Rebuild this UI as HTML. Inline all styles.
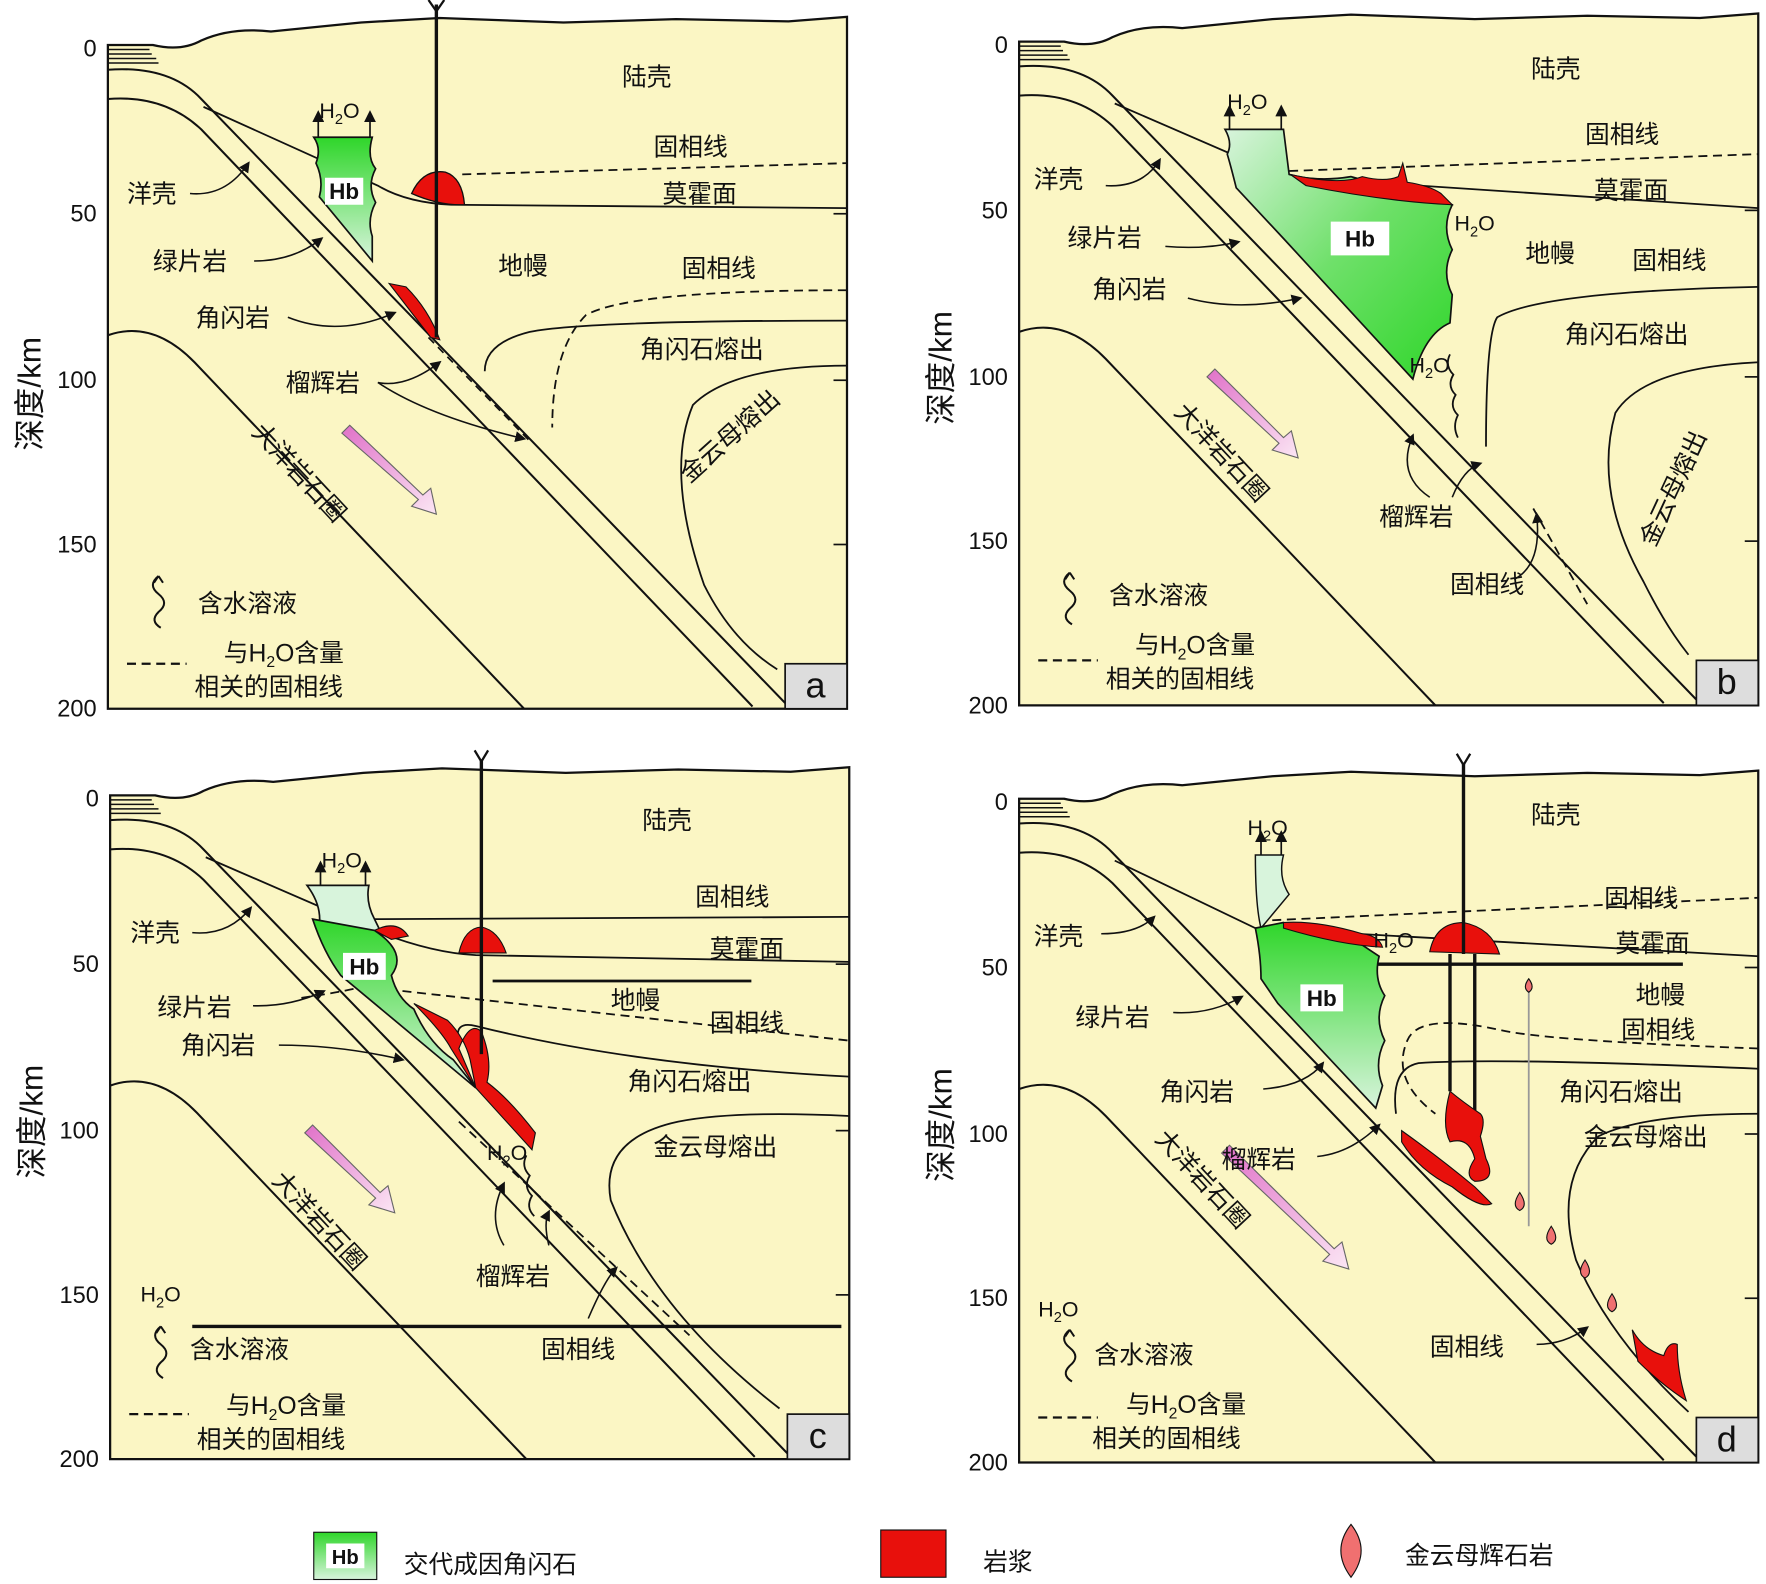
<!DOCTYPE html>
<html><head><meta charset="utf-8"><style>
html,body{margin:0;padding:0;background:#fff;}
svg{display:block}
text{font-family:"Liberation Sans","Noto Sans CJK SC",sans-serif;fill:#111}
.c{font-size:22px}
.ax{font-size:21px}
</style></head><body>
<svg width="1766" height="1584" viewBox="0 0 1568 1408" xmlns="http://www.w3.org/2000/svg">
<defs>
<linearGradient id="gr" x1="0" y1="0" x2="0" y2="1"><stop offset="0" stop-color="#2fd62a"/><stop offset="1" stop-color="#d8f4dc"/></linearGradient>
<linearGradient id="gr2" x1="0" y1="0" x2="1" y2="1"><stop offset="0" stop-color="#d8f4dc"/><stop offset="0.5" stop-color="#6fe06a"/><stop offset="1" stop-color="#2fd62a"/></linearGradient>
<linearGradient id="pk" x1="0" y1="0" x2="1" y2="1"><stop offset="0" stop-color="#e070c8"/><stop offset="1" stop-color="#fbe6f4"/></linearGradient>
<marker id="ah" viewBox="0 0 10 10" refX="8" refY="5" markerWidth="7" markerHeight="7" orient="auto"><path d="M0,0 L10,5 L0,10 Z" fill="#111"/></marker>
<g id="base">
<path d="M95,40 L135,40 Q160,46 178,36 Q205,24 240,28 L320,20 L390,16 L500,20 L600,17 L700,19 L752,15 L752,630 L95,630 Z" fill="#FBF6C4" stroke="#111" stroke-width="2"/>
<g stroke="#111" stroke-width="1.3"><line x1="95" y1="44" x2="132" y2="44"/><line x1="95" y1="48" x2="134" y2="48"/><line x1="95" y1="52" x2="138" y2="52"/><line x1="95" y1="56" x2="140" y2="56"/></g>
<g fill="none" stroke="#111" stroke-width="1.8">
<path d="M95,62 Q150,58 178,88 L700,628"/>
<path d="M95,88 Q145,84 178,115 L668,628"/>
<path d="M95,298 Q135,284 172,322 L465,630"/>
</g>
<g stroke="#111" stroke-width="1.5"><line x1="740" y1="190" x2="752" y2="190"/><line x1="740" y1="338" x2="752" y2="338"/><line x1="740" y1="484" x2="752" y2="484"/></g>
<rect x="697" y="590" width="55" height="40" fill="#ddd" stroke="#111" stroke-width="1.5"/>
<path d="M140,512 q-10,8 0,16 q10,8 0,16 q-8,8 2,14" fill="none" stroke="#111" stroke-width="1.8"/>
<path d="M140,512 l-4,6 M140,512 l4,6" stroke="#111" stroke-width="1.8"/>
<line x1="112" y1="590" x2="165" y2="590" stroke="#111" stroke-width="2" stroke-dasharray="8,5"/>
</g>
</defs>

<!-- PANEL A -->
<g>
<use href="#base"/>
<g class="ax" text-anchor="end"><text x="85" y="50">0</text><text x="85" y="197">50</text><text x="85" y="345">100</text><text x="85" y="491">150</text><text x="85" y="637">200</text></g>
<text x="35" y="350" transform="rotate(-90 35 350)" text-anchor="middle" font-size="28">深度/km</text>
<text x="724" y="620" font-size="32" text-anchor="middle">a</text>
<g fill="none" stroke="#111" stroke-width="1.6">
<path d="M180,95 L335,165 Q360,180 400,182 L752,185"/>
<path d="M410,155 L752,145" stroke-dasharray="8,5"/>
<path d="M752,258 Q560,258 520,280 Q490,310 490,380" stroke-dasharray="8,5"/>
<path d="M752,285 Q520,285 470,295 Q430,305 430,330"/>
<path d="M752,325 Q650,325 615,360 Q590,420 625,520 Q650,570 690,595"/>
</g>
<path d="M278,122 L330,122 Q325,140 333,150 Q325,165 333,180 Q325,195 330,210 L330,232 L283,175 Q287,160 280,145 Q285,132 278,122 Z" fill="url(#gr)" stroke="#111" stroke-width="1.5"/>
<path d="M282,122 L282,100" stroke="#111" stroke-width="1.5" marker-end="url(#ah)"/><path d="M328,122 L328,100" stroke="#111" stroke-width="1.5" marker-end="url(#ah)"/>
<text x="283" y="105" font-size="19">H<tspan font-size="13" dy="5">2</tspan><tspan dy="-5">O</tspan></text>
<rect x="288" y="158" width="34" height="24" fill="#fff"/><text x="305" y="177" text-anchor="middle" font-weight="bold" font-size="20">Hb</text>
<path d="M365,172 Q375,150 395,153 Q410,158 412,182 Q390,183 365,172 Z" fill="#e8100c" stroke="#111" stroke-width="1.2"/>
<path d="M345,252 L360,255 Q380,275 390,302 L382,300 Z" fill="#e8100c" stroke="#111" stroke-width="1"/>
<line x1="387" y1="4" x2="387" y2="300" stroke="#111" stroke-width="3"/>
<path d="M380,0 L387,10 L394,0" fill="none" stroke="#111" stroke-width="2"/>
<path d="M380,300 L470,392" fill="none" stroke="#111" stroke-width="1.5" stroke-dasharray="7,5"/>
<path d="M303,385 L310,378 L375,440 L382,434 L387,457 L365,450 L371,444 Z" fill="url(#pk)" stroke="#666" stroke-width="1"/>
<g fill="none" stroke="#111" stroke-width="1.4">
<path d="M168,172 Q200,175 220,145" marker-end="url(#ah)"/>
<path d="M225,232 Q260,232 285,212" marker-end="url(#ah)"/>
<path d="M255,282 Q300,300 350,278" marker-end="url(#ah)"/>
<path d="M335,340 Q360,345 390,322" marker-end="url(#ah)"/>
<path d="M335,340 Q380,370 465,390" marker-end="url(#ah)"/>
</g>
<g class="c"><text x="552" y="76">陆壳</text><text x="580" y="138">固相线</text><text x="588" y="180">莫霍面</text><text x="442" y="244">地幔</text><text x="605" y="246">固相线</text><text x="568" y="318">角闪石熔出</text>
<text x="112" y="180">洋壳</text><text x="135" y="240">绿片岩</text><text x="173" y="290">角闪岩</text><text x="253" y="348">榴辉岩</text>
<text x="175" y="544">含水溶液</text><text x="198" y="588">与H<tspan font-size="14" dy="5">2</tspan><tspan dy="-5">O含量</tspan></text><text x="172" y="618">相关的固相线</text>
<text x="0" y="0" transform="translate(222,385) rotate(47)">大洋岩石圈</text>
<text x="0" y="0" transform="translate(612,430) rotate(-42)">金云母熔出</text></g>
</g>

<!-- PANEL B -->
<g transform="translate(810,-3)">
<use href="#base"/>
<g class="ax" text-anchor="end"><text x="85" y="50">0</text><text x="85" y="197">50</text><text x="85" y="345">100</text><text x="85" y="491">150</text><text x="85" y="637">200</text></g>
<text x="35" y="330" transform="rotate(-90 35 330)" text-anchor="middle" font-size="28">深度/km</text>
<text x="724" y="620" font-size="32" text-anchor="middle">b</text>
<g fill="none" stroke="#111" stroke-width="1.6">
<path d="M180,95 L330,160 L752,188"/>
<path d="M335,155 L752,140" stroke-dasharray="8,5"/>
<path d="M752,258 Q560,262 520,285 Q510,300 510,400"/>
<path d="M752,325 Q650,330 625,370 Q605,440 650,520 Q670,560 690,585"/>
<path d="M552,455 L600,540" stroke-dasharray="8,5"/>
</g>
<path d="M278,118 L330,118 L335,158 Q360,165 390,160 L480,185 Q470,205 480,225 Q470,245 480,265 L478,290 Q455,300 445,340 L330,215 L288,170 Q283,150 280,140 Q285,130 278,118 Z" fill="url(#gr2)" stroke="#111" stroke-width="1.5"/>
<path d="M336,158 Q380,168 400,160 Q420,165 432,160 L436,148 L440,165 Q460,168 470,175 L480,185 Q420,182 350,168 Z" fill="#e8100c" stroke="#111" stroke-width="1"/>
<path d="M282,118 L282,98" stroke="#111" stroke-width="1.5" marker-end="url(#ah)"/><path d="M328,118 L328,98" stroke="#111" stroke-width="1.5" marker-end="url(#ah)"/>
<text x="280" y="100" font-size="19">H<tspan font-size="13" dy="5">2</tspan><tspan dy="-5">O</tspan></text>
<rect x="372" y="200" width="52" height="30" fill="#fff"/><text x="398" y="222" text-anchor="middle" font-weight="bold" font-size="20">Hb</text>
<path d="M478,318 q-5,10 3,18 q-6,10 2,18 q-6,10 2,18 q-5,10 0,20" fill="none" stroke="#111" stroke-width="1.6"/>
<text x="482" y="208" font-size="19">H<tspan font-size="13" dy="5">2</tspan><tspan dy="-5">O</tspan></text>
<text x="442" y="334" font-size="19">H<tspan font-size="13" dy="5">2</tspan><tspan dy="-5">O</tspan></text>
<path d="M262,338 L269,331 L330,392 L337,386 L343,410 L320,403 L326,397 Z" fill="url(#pk)" stroke="#666" stroke-width="1"/>
<g fill="none" stroke="#111" stroke-width="1.4">
<path d="M172,168 Q205,170 220,145" marker-end="url(#ah)"/>
<path d="M225,222 Q260,225 290,218" marker-end="url(#ah)"/>
<path d="M245,268 Q290,280 345,268" marker-end="url(#ah)"/>
<path d="M460,445 Q430,425 445,390" marker-end="url(#ah)"/>
<path d="M480,445 Q490,420 505,415" marker-end="url(#ah)"/>
<path d="M535,518 Q560,505 555,460" marker-end="url(#ah)"/>
</g>
<g class="c"><text x="550" y="72">陆壳</text><text x="598" y="130">固相线</text><text x="606" y="180">莫霍面</text><text x="545" y="236">地幔</text><text x="640" y="242">固相线</text><text x="580" y="308">角闪石熔出</text>
<text x="108" y="170">洋壳</text><text x="138" y="222">绿片岩</text><text x="160" y="268">角闪岩</text><text x="415" y="470">榴辉岩</text><text x="478" y="530">固相线</text>
<text x="175" y="540">含水溶液</text><text x="198" y="584">与H<tspan font-size="14" dy="5">2</tspan><tspan dy="-5">O含量</tspan></text><text x="172" y="614">相关的固相线</text>
<text x="0" y="0" transform="translate(232,370) rotate(47)">大洋岩石圈</text>
<text x="0" y="0" transform="translate(660,490) rotate(-65)">金云母熔出</text></g>
</g>

<!-- PANEL C -->
<g transform="translate(2,667)">
<use href="#base"/>
<g class="ax" text-anchor="end"><text x="85" y="50">0</text><text x="85" y="197">50</text><text x="85" y="345">100</text><text x="85" y="491">150</text><text x="85" y="637">200</text></g>
<text x="35" y="330" transform="rotate(-90 35 330)" text-anchor="middle" font-size="28">深度/km</text>
<text x="724" y="620" font-size="32" text-anchor="middle">c</text>
<g fill="none" stroke="#111" stroke-width="1.6">
<path d="M180,95 L330,160 Q380,180 420,182 L752,188"/>
<line x1="330" y1="150" x2="752" y2="148"/>
<line x1="435" y1="205" x2="665" y2="205" stroke-width="2.5"/>
<path d="M265,220 Q300,215 320,210 L752,258" stroke-dasharray="8,5"/>
<path d="M752,290 Q560,280 420,245 Q400,240 405,260"/>
<path d="M752,325 Q650,320 600,330 Q530,345 540,400 Q580,500 690,585"/>
<path d="M405,330 L610,520" stroke-dasharray="8,5"/>
<line x1="168" y1="512" x2="745" y2="512" stroke-width="3"/>
</g>
<path d="M270,120 L325,120 Q322,135 330,150 Q340,170 345,185 L280,160 Q285,140 270,120 Z" fill="#d8f4dc" stroke="#111" stroke-width="1.5"/>
<path d="M275,150 L330,160 Q360,180 345,200 Q350,220 365,230 Q378,260 400,275 L420,300 L300,200 Q285,180 275,150 Z" fill="url(#gr)" stroke="#111" stroke-width="1.5"/>
<path d="M330,160 Q350,150 360,165 L345,168 Z" fill="#e8100c" stroke="#111"/>
<path d="M405,180 Q410,158 425,157 Q440,160 447,180 Z" fill="#e8100c" stroke="#111"/>
<path d="M365,225 Q390,250 398,265 L420,300 L415,275 Q410,255 395,240 Z M405,265 Q415,240 425,250 Q435,275 430,295 Q450,310 473,340 L470,355 L420,300 Z" fill="#e8100c" stroke="#111" stroke-width="1"/>
<line x1="425" y1="8" x2="425" y2="270" stroke="#111" stroke-width="3"/>
<path d="M419,0 L425,10 L431,0" fill="none" stroke="#111" stroke-width="2"/>
<path d="M282,120 L282,100" stroke="#111" stroke-width="1.5" marker-end="url(#ah)"/><path d="M322,120 L322,100" stroke="#111" stroke-width="1.5" marker-end="url(#ah)"/>
<text x="283" y="104" font-size="19">H<tspan font-size="13" dy="5">2</tspan><tspan dy="-5">O</tspan></text>
<rect x="302" y="180" width="38" height="24" fill="#fff"/><text x="321" y="199" text-anchor="middle" font-weight="bold" font-size="20">Hb</text>
<text x="430" y="364" font-size="19">H<tspan font-size="13" dy="5">2</tspan><tspan dy="-5">O</tspan></text>
<path d="M465,360 q-5,10 3,18 q-6,10 2,18 q-6,10 2,18" fill="none" stroke="#111" stroke-width="1.6"/>
<path d="M268,340 L275,333 L335,393 L342,387 L348,411 L325,404 L331,398 Z" fill="url(#pk)" stroke="#666" stroke-width="1"/>
<g fill="none" stroke="#111" stroke-width="1.4">
<path d="M168,162 Q200,165 220,140" marker-end="url(#ah)"/>
<path d="M222,227 Q255,228 285,214" marker-end="url(#ah)"/>
<path d="M245,262 Q300,262 355,275" marker-end="url(#ah)"/>
<path d="M445,440 Q430,415 445,385" marker-end="url(#ah)"/>
<path d="M485,440 Q480,420 485,410" marker-end="url(#ah)"/>
<path d="M520,505 Q535,470 545,460" marker-end="url(#ah)"/>
</g>
<g class="c"><text x="568" y="70">陆壳</text><text x="615" y="138">固相线</text><text x="628" y="184">莫霍面</text><text x="540" y="230">地幔</text><text x="628" y="250">固相线</text><text x="555" y="302">角闪石熔出</text><text x="578" y="360">金云母熔出</text>
<text x="113" y="170">洋壳</text><text x="137" y="236">绿片岩</text><text x="158" y="270">角闪岩</text><text x="420" y="475">榴辉岩</text><text x="478" y="540">固相线</text>
<text x="122" y="490" font-size="19">H<tspan font-size="13" dy="5">2</tspan><tspan dy="-5">O</tspan></text>
<text x="166" y="540">含水溶液</text><text x="198" y="590">与H<tspan font-size="14" dy="5">2</tspan><tspan dy="-5">O含量</tspan></text><text x="172" y="620">相关的固相线</text>
<text x="0" y="0" transform="translate(238,383) rotate(47)">大洋岩石圈</text></g>
</g>

<!-- PANEL D -->
<g transform="translate(810,670)">
<use href="#base"/>
<g class="ax" text-anchor="end"><text x="85" y="50">0</text><text x="85" y="197">50</text><text x="85" y="345">100</text><text x="85" y="491">150</text><text x="85" y="637">200</text></g>
<text x="35" y="330" transform="rotate(-90 35 330)" text-anchor="middle" font-size="28">深度/km</text>
<text x="724" y="620" font-size="32" text-anchor="middle">d</text>
<g fill="none" stroke="#111" stroke-width="1.6">
<path d="M180,95 L305,155 L752,180"/>
<path d="M320,148 L752,128" stroke-dasharray="8,5"/>
<line x1="410" y1="187" x2="685" y2="187" stroke-width="3"/>
<path d="M752,262 Q560,255 520,245 Q450,230 440,255 Q425,290 465,320" stroke-dasharray="8,5"/>
<path d="M752,280 Q520,270 450,275 Q425,280 430,320"/>
<path d="M752,320 Q650,320 610,340 Q570,380 590,450 Q620,520 690,585"/>
<line x1="548" y1="205" x2="548" y2="420" stroke="#999"/>
</g>
<path d="M305,90 L330,90 Q325,110 335,125 L310,155 Q305,135 305,90 Z" fill="#d8f4dc" stroke="#111" stroke-width="1.3"/>
<path d="M305,155 L330,150 Q375,165 400,170 L415,180 Q410,200 420,215 Q410,235 420,255 Q410,275 418,295 L412,315 L325,222 L310,200 Q310,180 305,155 Z" fill="url(#gr)" stroke="#111" stroke-width="1.5"/>
<path d="M330,150 Q360,148 400,160 Q415,162 418,172 Q380,170 330,155 Z" fill="#e8100c" stroke="#111"/>
<path d="M460,176 Q465,150 490,150 Q515,155 522,178 Z" fill="#e8100c" stroke="#111"/>
<path d="M478,178 L478,300 M500,178 L500,350" stroke="#111" stroke-width="3"/>
<path d="M484,0 L490,10 L496,0" fill="none" stroke="#111" stroke-width="2"/><line x1="490" y1="8" x2="490" y2="178" stroke="#111" stroke-width="3"/>
<path d="M435,335 Q470,360 500,385 L515,400 Q505,405 480,385 Q450,370 435,345 Z" fill="#e8100c" stroke="#111"/>
<path d="M478,300 Q470,330 478,345 Q495,340 500,360 Q490,375 500,380 Q520,380 510,360 L505,340 Q510,325 505,320 Q490,310 478,300 Z" fill="#e8100c" stroke="#111"/>
<path d="M640,512 Q650,530 668,535 Q672,522 680,525 Q680,550 688,575 Q665,560 645,540 Z" fill="#e8100c" stroke="#111"/>
<g fill="#f07070" stroke="#111" stroke-width="1">
<path d="M548,200 q-6,8 0,12 q6,-4 0,-12 Z"/>
<path d="M540,390 q-8,12 0,16 q8,-4 0,-16 Z"/><path d="M568,420 q-8,12 0,16 q8,-4 0,-16 Z"/><path d="M598,450 q-8,12 0,16 q8,-4 0,-16 Z"/><path d="M622,480 q-8,12 0,16 q8,-4 0,-16 Z"/>
</g>
<path d="M310,90 L310,70" stroke="#111" stroke-width="1.5" marker-end="url(#ah)"/><path d="M328,90 L328,70" stroke="#111" stroke-width="1.5" marker-end="url(#ah)"/>
<text x="298" y="72" font-size="19">H<tspan font-size="13" dy="5">2</tspan><tspan dy="-5">O</tspan></text>
<text x="410" y="172" font-size="19">H<tspan font-size="13" dy="5">2</tspan><tspan dy="-5">O</tspan></text>
<rect x="345" y="205" width="38" height="24" fill="#fff"/><text x="364" y="224" text-anchor="middle" font-weight="bold" font-size="20">Hb</text>
<path d="M275,355 L282,348 L375,440 L382,434 L388,458 L365,451 L371,445 Z" fill="url(#pk)" stroke="#666" stroke-width="1"/>
<g fill="none" stroke="#111" stroke-width="1.4">
<path d="M168,160 Q200,160 215,145" marker-end="url(#ah)"/>
<path d="M232,230 Q265,232 293,216" marker-end="url(#ah)"/>
<path d="M312,298 Q350,295 365,275" marker-end="url(#ah)"/>
<path d="M360,358 Q390,355 415,330" marker-end="url(#ah)"/>
<path d="M555,525 Q580,525 600,510" marker-end="url(#ah)"/>
</g>
<g class="c"><text x="550" y="62">陆壳</text><text x="615" y="136">固相线</text><text x="625" y="176">莫霍面</text><text x="643" y="222">地幔</text><text x="630" y="253">固相线</text><text x="575" y="308">角闪石熔出</text><text x="597" y="348">金云母熔出</text>
<text x="108" y="170">洋壳</text><text x="145" y="242">绿片岩</text><text x="220" y="308">角闪岩</text><text x="275" y="368">榴辉岩</text><text x="460" y="535">固相线</text>
<text x="112" y="500" font-size="19">H<tspan font-size="13" dy="5">2</tspan><tspan dy="-5">O</tspan></text>
<text x="162" y="542">含水溶液</text><text x="190" y="586">与H<tspan font-size="14" dy="5">2</tspan><tspan dy="-5">O含量</tspan></text><text x="160" y="616">相关的固相线</text>
<text x="0" y="0" transform="translate(215,343) rotate(47)">大洋岩石圈</text></g>
</g>

<!-- LEGEND -->
<rect x="278" y="1362" width="56" height="42" fill="url(#gr)" stroke="#111"/>
<rect x="289" y="1372" width="34" height="22" fill="#fff"/><text x="306" y="1390" text-anchor="middle" font-weight="bold" font-size="18">Hb</text>
<text x="358" y="1398" class="c">交代成因角闪石</text>
<rect x="782" y="1360" width="58" height="42" fill="#e8100c" stroke="#111"/>
<text x="873" y="1396" class="c">岩浆</text>
<path d="M1200,1355 Q1182,1378 1200,1402 Q1218,1378 1200,1355 Z" fill="#f07070" stroke="#111"/>
<text x="1248" y="1390" class="c">金云母辉石岩</text>
</svg>
</body></html>
